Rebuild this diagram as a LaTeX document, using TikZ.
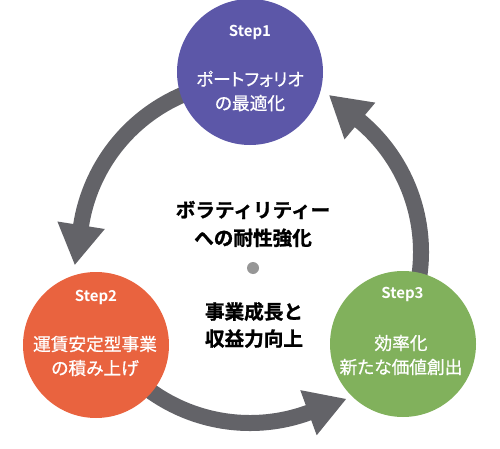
\documentclass[tikz,border=0pt]{standalone}
\usepackage{fontspec}
\newfontfamily\jp{Noto Sans CJK JP}[BoldFont={Noto Sans CJK JP Bold}]
\newfontfamily\jpheavy{Noto Sans CJK JP Bold}[FakeBold=1.2]
\newfontfamily\jpp{Noto Sans CJK JP}[RawFeature=+palt,FakeBold=0.7]
\usetikzlibrary{calc}
\definecolor{cpurple}{RGB}{92,87,168}
\definecolor{corange}{RGB}{233,99,63}
\definecolor{cgreen}{RGB}{129,177,92}
\definecolor{arrowgray}{RGB}{99,99,104}
\definecolor{dotgray}{RGB}{150,150,150}
\newcommand\cyclearrow[2]{%
  \fill[arrowgray] ($(C)+(#1:179pt)$) arc[start angle=#1, end angle=#2, radius=179pt]
    -- ($(C)+(#2:195pt)$) -- ($(C)+(#2:171pt)+({#2+90}:40pt)$) -- ($(C)+(#2:147pt)$)
    -- ($(C)+(#2:163pt)$) arc[start angle=#2, end angle=#1, radius=163pt] -- cycle;}
\begin{document}
\begin{tikzpicture}[x=1pt,y=1pt,
  stepcircle/.style={circle, minimum size=146pt, inner sep=0pt},
  steplabel/.style={text=white, inner sep=0pt, font=\jp\bfseries\fontsize{15}{18}\selectfont},
  bodytext/.style={text=white, align=center, inner sep=0pt, font=\jpp\fontsize{17.7}{24}\selectfont},
  centertext/.style={align=center, inner sep=0pt, font=\jpheavy\fontsize{19.6}{28}\selectfont}]
\useasboundingbox (0,0) rectangle (500,448);
\coordinate (C) at (250,196);
% arrows
\cyclearrow{100}{171}
\cyclearrow{220}{290}
\cyclearrow{340}{410}
% circles
\node[stepcircle, fill=cpurple] (s1) at (250,376) {};
\node[stepcircle, fill=corange] (s2) at (96,103) {};
\node[stepcircle, fill=cgreen] (s3) at (403,104) {};
% step labels
\node[steplabel] (s1t) at (250,416) {Step1};
\node[steplabel] (s2t) at (96,151) {Step2};
\node[steplabel] (s3t) at (402.5,154) {Step3};
\node[bodytext] (s1b) at (250,357) {ポートフォリオ\\の最適化};
\node[bodytext] (s2b) at (95,92) {運賃安定型事業\\の積み上げ};
\node[bodytext] (s3b) at (401,93) {効率化\\新たな価値創出};
% center
\node[centertext] (c1) at (253,224) {ボラティリティー\\への耐性強化};
\node[centertext, font=\jpheavy\fontsize{19.6}{27}\selectfont] (c2) at (254,123) {事業成長と\\収益力向上};
\fill[dotgray] (253,180) circle[radius=6pt];
\end{tikzpicture}
\end{document}
